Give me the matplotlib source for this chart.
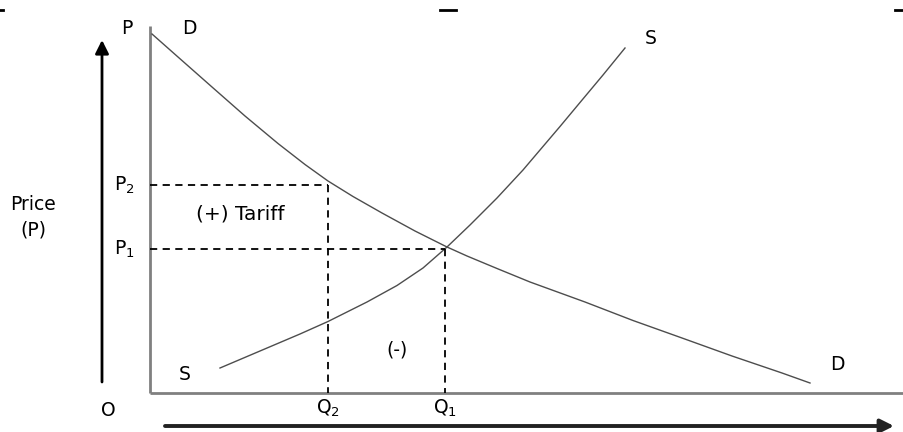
import matplotlib
matplotlib.use("Agg")
import matplotlib.pyplot as plt

plt.rcParams['font.family'] = ['DejaVu Sans']
plt.rcParams['mathtext.fontset'] = 'dejavusans'
plt.rcParams['mathtext.default'] = 'regular'

# Data in pixel-like units (x to the right, y downward)
demand_x = [152, 178, 212, 245, 278, 305, 328, 353, 382, 415, 447, 467, 497, 530, 585, 633, 682, 732, 782, 810]
demand_y = [34, 57, 87, 116, 143.5, 164.5, 181, 196.5, 213, 231, 247, 256, 268.5, 282, 302, 320.5, 338, 356, 373, 383]
supply_x = [220, 260, 300, 328, 367, 397, 423, 447, 470, 497, 523, 540, 560, 580, 603, 625]
supply_y = [368, 351, 334, 321.5, 302, 285.5, 268, 247, 225, 198, 170, 150, 126.5, 102.5, 75, 48]

p_levels = [185, 249]          # P2, P1
q_levels = [328, 445]          # Q2, Q1
p_labels = [r'P$_2$', r'P$_1$']
q_labels = [r'Q$_2$', r'Q$_1$']

fig = plt.figure(figsize=(9.04, 4.32), dpi=100)
ax = fig.add_axes([0, 0, 1, 1])
ax.set_xlim(0, 904)
ax.set_ylim(432, 0)
ax.axis('off')

axis_col = '#808080'
curve_col = '#4d4d4d'

# axes of the diagram
ax.plot([150, 150], [26, 393], color=axis_col, lw=2, solid_capstyle='butt')
ax.plot([150, 904], [393, 393], color=axis_col, lw=2, solid_capstyle='butt')

# curves
ax.plot(demand_x, demand_y, color=curve_col, lw=1)
ax.plot(supply_x, supply_y, color=curve_col, lw=1)

# dashed guides
for p, q in zip(p_levels, q_levels):
    ax.plot([150, q], [p, p], color='black', lw=1.3, ls=(0, (4, 3)))
    ax.plot([q, q], [p, 393], color='black', lw=1.3, ls=(0, (4, 3)))

# arrows
ax.annotate('', xy=(102, 40), xytext=(102, 382),
            arrowprops=dict(arrowstyle='-|>', color='black', lw=2,
                            mutation_scale=20, shrinkA=0, shrinkB=0))
ax.annotate('', xy=(894, 426), xytext=(165, 426),
            arrowprops=dict(arrowstyle='-|>', color='#222222', lw=2.8,
                            mutation_scale=20, shrinkA=0, shrinkB=0))

# small marks at the top
ax.plot([0, 3], [10, 10], color='black', lw=2)
ax.plot([440, 456], [10, 10], color='black', lw=2)
ax.plot([895, 904], [10, 10], color='black', lw=2)

fs = 13.5
ax.text(127, 28, 'P', fontsize=fs, ha='center', va='center')
ax.text(189, 29, 'D', fontsize=fs, ha='center', va='center')
ax.text(651, 39, 'S', fontsize=fs, ha='center', va='center')
ax.text(185, 374, 'S', fontsize=fs, ha='center', va='center')
ax.text(837, 364, 'D', fontsize=fs, ha='center', va='center')
ax.text(108, 411, 'O', fontsize=fs, ha='center', va='center')
for p, lab in zip(p_levels, p_labels):
    ax.text(124, p, lab, fontsize=fs, ha='center', va='center')
for q, lab in zip(q_levels, q_labels):
    ax.text(q, 408, lab, fontsize=fs, ha='center', va='center')
ax.text(33, 217, 'Price\n(P)', fontsize=fs, ha='center', va='center', linespacing=1.45)
ax.text(240, 214, '(+) Tariff', fontsize=14.5, ha='center', va='center')
ax.text(397, 350, '(-)', fontsize=fs, ha='center', va='center')

fig.savefig('out.png', dpi=100)
